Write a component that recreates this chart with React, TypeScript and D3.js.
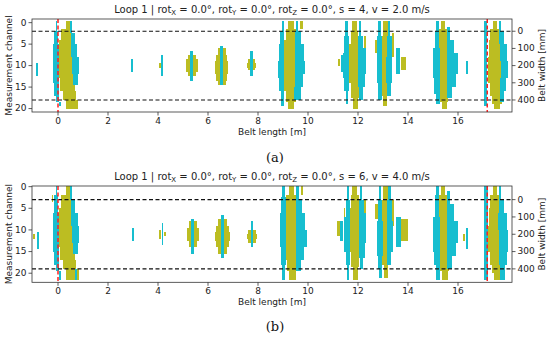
import React from "react";
import * as d3 from "d3";

// belt length ticks [m], channel ticks, belt width ticks [mm]
const xTicks = [0, 2, 4, 6, 8, 10, 12, 14, 16];
const chTicks = [0, 5, 10, 15, 20];
const mmTicks = [0, 100, 200, 300, 400];

// each cell block: [x0 (m), x1 (m), channel start, channel end]
const oliveA = [
  [0.3, 0.46, -0.5, 1.5], [0.12, 0.52, 1.5, 4], [0.04, 0.58, 4, 8], [0.02, 0.62, 8, 13], [0.08, 0.66, 13, 16], [0.2, 0.72, 16, 18], [0.32, 0.8, 18, 20],
  [4.05, 4.12, 9.5, 10.5],
  [5.2, 5.5, 7.5, 8.5], [5.12, 5.58, 8.5, 11.5], [5.2, 5.5, 11.5, 12.5],
  [6.38, 6.7, 6, 7.5], [6.32, 6.76, 7.5, 9], [6.28, 6.8, 9, 12], [6.32, 6.76, 12, 13.5], [6.38, 6.7, 13.5, 14.5],
  [7.6, 7.88, 8.5, 11], [7.57, 7.92, 9.5, 10.5],
  [9.2, 9.45, -0.5, 1.5], [9.1, 9.5, 1.5, 4], [9.05, 9.55, 4, 7], [9.02, 9.6, 7, 13], [9.05, 9.55, 13, 16], [9.12, 9.5, 16, 18.5], [9.2, 9.45, 18.5, 20], [9.68, 9.78, -0.5, 1.5],
  [11.18, 11.26, 8.5, 10], [11.42, 11.48, 6, 13],
  [11.75, 11.95, -0.5, 2], [11.7, 12.0, 2, 5], [11.65, 12.05, 5, 14], [11.7, 12.02, 14, 17.5], [11.78, 11.98, 17.5, 20], [12.25, 12.33, 3, 6],
  [12.68, 12.75, 4, 7],
  [12.98, 13.18, -0.5, 3], [12.93, 13.24, 3, 7], [12.9, 13.26, 7, 14], [12.93, 13.2, 14, 17], [12.98, 13.15, 17, 19.5],
  [13.35, 13.45, 2.5, 8], [13.7, 13.92, 8, 11],
  [15.32, 15.48, -0.5, 1.5], [15.24, 15.56, 1.5, 4], [15.18, 15.66, 4, 8], [15.15, 15.74, 8, 14], [15.2, 15.68, 14, 16.5], [15.28, 15.6, 16.5, 18.5], [15.36, 15.54, 18.5, 20],
  [17.38, 17.54, -0.5, 1.5], [17.28, 17.64, 1.5, 4], [17.22, 17.74, 4, 8], [17.2, 17.84, 8, 14], [17.26, 17.8, 14, 17], [17.36, 17.76, 17, 19], [17.45, 17.68, 19, 20],
];

const cyanA = [
  [-0.9, -0.8, 9.5, 12.5],
  [-0.1, -0.03, -0.5, 2], [-0.15, 0.0, 2, 5], [-0.2, 0.02, 5, 14], [-0.15, 0.02, 14, 17], [-0.08, 0.02, 17, 18.5], [0.05, 0.12, 18.5, 19.5],
  [0.46, 0.54, -0.5, 2.5], [0.5, 0.66, 2.5, 5], [0.52, 0.76, 5, 8], [0.55, 0.82, 8, 12], [0.6, 0.78, 12, 14.5],
  [2.93, 3.0, 8.5, 11.5], [4.12, 4.2, 7.5, 12.5], [5.28, 5.39, 6.5, 13.5], [6.48, 6.61, 5.5, 14.5], [7.69, 7.79, 6.5, 12.5],
  [8.95, 9.03, -0.5, 2], [8.88, 9.05, 2, 5], [8.82, 9.05, 5, 9], [8.8, 9.05, 9, 13], [8.84, 9.05, 13, 16], [8.9, 9.05, 16, 19.5],
  [9.5, 9.6, -0.5, 2], [9.48, 9.7, 2, 5], [9.48, 9.82, 5, 9], [9.48, 9.88, 9, 12], [9.48, 9.8, 12, 15], [9.45, 9.7, 15, 18],
  [11.3, 11.38, 7.5, 11.5],
  [11.48, 11.58, -0.5, 3], [11.44, 11.62, 3, 7], [11.4, 11.64, 7, 13], [11.44, 11.62, 13, 16], [11.5, 11.6, 16, 19],
  [12.02, 12.1, -0.5, 3], [12.0, 12.2, 3, 6], [11.98, 12.32, 6, 12], [12.0, 12.26, 12, 15], [12.02, 12.18, 15, 18],
  [12.8, 12.9, -0.5, 3], [12.76, 12.94, 3, 8], [12.74, 12.95, 8, 14], [12.78, 12.94, 14, 18],
  [13.18, 13.28, -0.5, 3], [13.15, 13.35, 3, 8], [13.12, 13.37, 8, 14], [13.15, 13.3, 14, 17],
  [13.51, 13.66, 6, 12],
  [15.12, 15.22, -0.5, 2], [15.06, 15.24, 2, 6], [15.01, 15.26, 6, 13], [15.05, 15.26, 13, 16.5], [15.12, 15.26, 16.5, 19],
  [15.56, 15.66, 1, 4], [15.56, 15.82, 4, 7], [15.56, 15.98, 7, 12], [15.56, 15.9, 12, 15], [15.56, 15.75, 15, 17.5],
  [16.3, 16.38, 9, 12],
  [17.02, 17.14, -0.5, 19.5],
  [17.62, 17.7, -0.5, 2], [17.64, 17.82, 2, 5], [17.66, 17.94, 5, 9], [17.7, 18.0, 9, 13], [17.68, 17.92, 13, 16], [17.66, 17.82, 16, 18.5],
];

const oliveB = [
  [-0.99, -0.92, 11, 12],
  [-0.25, -0.19, 2, 3.5],
  [0.3, 0.46, -0.5, 2], [0.12, 0.52, 2, 5], [0.04, 0.58, 5, 9], [0.02, 0.62, 9, 14], [0.08, 0.66, 14, 17], [0.2, 0.72, 17, 19], [0.32, 0.85, 19, 21.5],
  [4.04, 4.12, 10, 12], [4.24, 4.3, 10.5, 11.5],
  [5.22, 5.56, 8, 9.5], [5.15, 5.65, 9.5, 12.5], [5.22, 5.56, 12.5, 14],
  [6.4, 6.76, 7.5, 9], [6.32, 6.84, 9, 10.5], [6.28, 6.88, 10.5, 12.5], [6.32, 6.84, 12.5, 14], [6.4, 6.76, 14, 15.5],
  [7.6, 7.92, 10, 13], [7.57, 7.95, 11, 12],
  [9.22, 9.45, -0.5, 2], [9.12, 9.55, 2, 5], [9.06, 9.62, 5, 8], [9.05, 9.66, 8, 14], [9.08, 9.6, 14, 17], [9.15, 9.55, 17, 19.5], [9.25, 9.5, 19.5, 21.5], [9.7, 9.8, -0.5, 2],
  [11.15, 11.26, 8, 11.5], [11.42, 11.48, 5, 15],
  [11.75, 11.95, -0.5, 2], [11.7, 12.02, 2, 5], [11.66, 12.06, 5, 15], [11.7, 12.04, 15, 18.5], [11.78, 12.0, 18.5, 21.5], [12.25, 12.33, 3, 7],
  [12.68, 12.78, 4, 7.5],
  [13.0, 13.2, -0.5, 3], [12.96, 13.28, 3, 7], [12.94, 13.32, 7, 15], [12.97, 13.24, 15, 18], [13.02, 13.18, 18, 21],
  [13.35, 13.45, 3, 9], [13.72, 14.0, 7.5, 12.5],
  [15.32, 15.48, -0.5, 2], [15.24, 15.56, 2, 5], [15.18, 15.66, 5, 9], [15.15, 15.75, 9, 15], [15.2, 15.68, 15, 17.5], [15.28, 15.62, 17.5, 19.5], [15.36, 15.58, 19.5, 21.5],
  [16.21, 16.28, 11, 12.5],
  [17.38, 17.54, -0.5, 2], [17.28, 17.64, 2, 5], [17.22, 17.74, 5, 9], [17.2, 17.86, 9, 15], [17.26, 17.82, 15, 18], [17.36, 17.78, 18, 20], [17.45, 17.72, 20, 21.5],
];

const cyanB = [
  [-0.85, -0.76, 10.5, 14.5],
  [-0.1, -0.03, -0.5, 2], [-0.15, 0.0, 2, 6], [-0.2, 0.02, 6, 15], [-0.15, 0.02, 15, 18], [-0.08, 0.02, 18, 19.5], [0.05, 0.12, 19.5, 21.5],
  [0.46, 0.54, -0.5, 3], [0.5, 0.66, 3, 6], [0.52, 0.78, 6, 9], [0.55, 0.85, 9, 13], [0.6, 0.8, 13, 15.5], [0.68, 0.75, 19, 21.5],
  [2.95, 3.02, 9.5, 12.5], [4.14, 4.21, 8.5, 13.5], [5.31, 5.43, 7.5, 15.5], [6.51, 6.64, 6.5, 16.5], [7.71, 7.81, 8, 14],
  [8.97, 9.06, -0.5, 2.5], [8.92, 9.1, 2.5, 6], [8.86, 9.12, 6, 14], [8.9, 9.1, 14, 18], [8.95, 9.08, 18, 21.5],
  [9.52, 9.62, -0.5, 3], [9.5, 9.74, 3, 6], [9.5, 9.88, 6, 10], [9.5, 9.95, 10, 14], [9.5, 9.82, 14, 17], [9.5, 9.7, 17, 19.5],
  [11.28, 11.4, 8, 12.5],
  [11.54, 11.64, -0.5, 3], [11.5, 11.66, 3, 7], [11.45, 11.68, 7, 15], [11.5, 11.66, 15, 18], [11.54, 11.64, 18, 21.5],
  [12.06, 12.14, -0.5, 3], [12.04, 12.22, 3, 6], [12.02, 12.32, 6, 13], [12.04, 12.26, 13, 16.5], [12.06, 12.2, 16.5, 19],
  [12.82, 12.92, -0.5, 3], [12.78, 12.96, 3, 8], [12.75, 13.0, 8, 16], [12.8, 12.96, 16, 19], [12.85, 12.95, 19, 21],
  [13.2, 13.3, -0.5, 3], [13.16, 13.36, 3, 8], [13.14, 13.38, 8, 15], [13.17, 13.32, 15, 18],
  [13.52, 13.72, 7, 14],
  [15.12, 15.22, -0.5, 2], [15.06, 15.25, 2, 7], [15.01, 15.28, 7, 15], [15.05, 15.28, 15, 18], [15.12, 15.28, 18, 21.5],
  [15.56, 15.66, 1, 4], [15.56, 15.84, 4, 8], [15.56, 16.0, 8, 13], [15.56, 15.92, 13, 16], [15.56, 15.76, 16, 19],
  [16.31, 16.41, 9.5, 14.5],
  [17.02, 17.18, -0.5, 21.5],
  [17.62, 17.7, -0.5, 3], [17.62, 17.82, 3, 6], [17.6, 17.94, 6, 10], [17.62, 18.0, 10, 15], [17.64, 17.94, 15, 18], [17.66, 17.86, 18, 21.5],
];

// belt edges (channel of 0 mm and 400 mm) and red markers [m]
const edgesA = [2, 18];
const edgesB = [3, 19];
const redMarks = [0, 17.17];

const OLIVE = "#bcbd22";
const CYAN = "#17becf";
const FONT = "DejaVu Sans";

type PanelProps = {
  top: number;
  bottom: number;
  chDomain: [number, number];
  edges: number[];
  olive: number[][];
  cyan: number[][];
  s: number;
  v: string;
  tag: string;
  tagY: number;
  id: string;
};

const left = 32;
const right = 512;

function Panel({ top, bottom, chDomain, edges, olive, cyan, s, v, tag, tagY, id }: PanelProps) {
  const x = d3.scaleLinear().domain([-1.04, 18.16]).range([left, right]);
  const y = d3.scaleLinear().domain(chDomain).range([top, bottom]);
  const mmToY = (mm: number) => y(edges[0] + mm / 25);
  const midY = (top + bottom) / 2;

  const cell = (d: number[], i: number, fill: string) => (
    <rect
      key={fill + i}
      x={x(d[0])}
      y={y(d[2])}
      width={x(d[1]) - x(d[0])}
      height={y(d[3]) - y(d[2])}
      fill={fill}
    />
  );

  return (
    <g fontFamily={FONT}>
      <defs>
        <clipPath id={id}>
          <rect x={left} y={top} width={right - left} height={bottom - top} />
        </clipPath>
      </defs>
      <text x={(left + right) / 2} y={top - 6} textAnchor="middle" fontSize={10} fill="#222">
        Loop 1 | rot<tspan fontSize={7} dy={2}>X</tspan>
        <tspan dy={-2}> = 0.0°, rot</tspan>
        <tspan fontSize={7} dy={2}>Y</tspan>
        <tspan dy={-2}> = 0.0°, rot</tspan>
        <tspan fontSize={7} dy={2}>Z</tspan>
        <tspan dy={-2}>{` = 0.0°, s = ${s}, v = ${v} m/s`}</tspan>
      </text>

      <g clipPath={`url(#${id})`}>
        <g shapeRendering="crispEdges">
          {olive.map((d, i) => cell(d, i, OLIVE))}
          {cyan.map((d, i) => cell(d, i, CYAN))}
        </g>
        {edges.map((c) => (
          <line key={c} x1={left} x2={right} y1={y(c)} y2={y(c)} stroke="#111" strokeWidth={1.1} strokeDasharray="4,2.5" />
        ))}
        {redMarks.map((m) => (
          <line key={m} x1={x(m)} x2={x(m)} y1={top} y2={bottom} stroke="#ff2020" strokeWidth={1.5} strokeDasharray="4,2.5" />
        ))}
      </g>

      <rect x={left} y={top} width={right - left} height={bottom - top} fill="none" stroke="#333" strokeWidth={0.8} />

      {xTicks.map((t) => (
        <g key={t} transform={`translate(${x(t)},${bottom})`}>
          <line y2={3.5} stroke="#333" strokeWidth={0.8} />
          <text y={12} textAnchor="middle" fontSize={9} fill="#222">{t}</text>
        </g>
      ))}
      {chTicks.map((t) => (
        <g key={t} transform={`translate(${left},${y(t)})`}>
          <line x2={-3.5} stroke="#333" strokeWidth={0.8} />
          <text x={-5.5} dy="0.32em" textAnchor="end" fontSize={9} fill="#222">{t}</text>
        </g>
      ))}
      {mmTicks.map((t) => (
        <g key={t} transform={`translate(${right},${mmToY(t)})`}>
          <line x2={3.5} stroke="#333" strokeWidth={0.8} />
          <text x={5.5} dy="0.32em" textAnchor="start" fontSize={9} fill="#222">{t}</text>
        </g>
      ))}

      <text x={(left + right) / 2} y={bottom + 23} textAnchor="middle" fontSize={9} fill="#222">Belt length [m]</text>
      <text transform={`translate(12,${midY}) rotate(-90)`} textAnchor="middle" fontSize={9} fill="#222">Measurement channel</text>
      <text transform={`translate(545,${midY}) rotate(-90)`} textAnchor="middle" fontSize={9} fill="#222">Belt width [mm]</text>
      <text x={275} y={tagY} textAnchor="middle" fontSize={13} fontFamily="DejaVu Serif" fill="#111">{tag}</text>
    </g>
  );
}

export default function App() {
  return (
    <svg width={550} height={339} style={{ position: "absolute", left: 0, top: 0, background: "#fff" }}>
      <Panel top={19} bottom={112} chDomain={[-0.85, 20.8]} edges={edgesA} olive={oliveA} cyan={cyanA} s={4} v="2.0" tag="(a)" tagY={162} id="clipA" />
      <Panel top={186} bottom={282.3} chDomain={[-0.15, 22.1]} edges={edgesB} olive={oliveB} cyan={cyanB} s={6} v="4.0" tag="(b)" tagY={331} id="clipB" />
    </svg>
  );
}
